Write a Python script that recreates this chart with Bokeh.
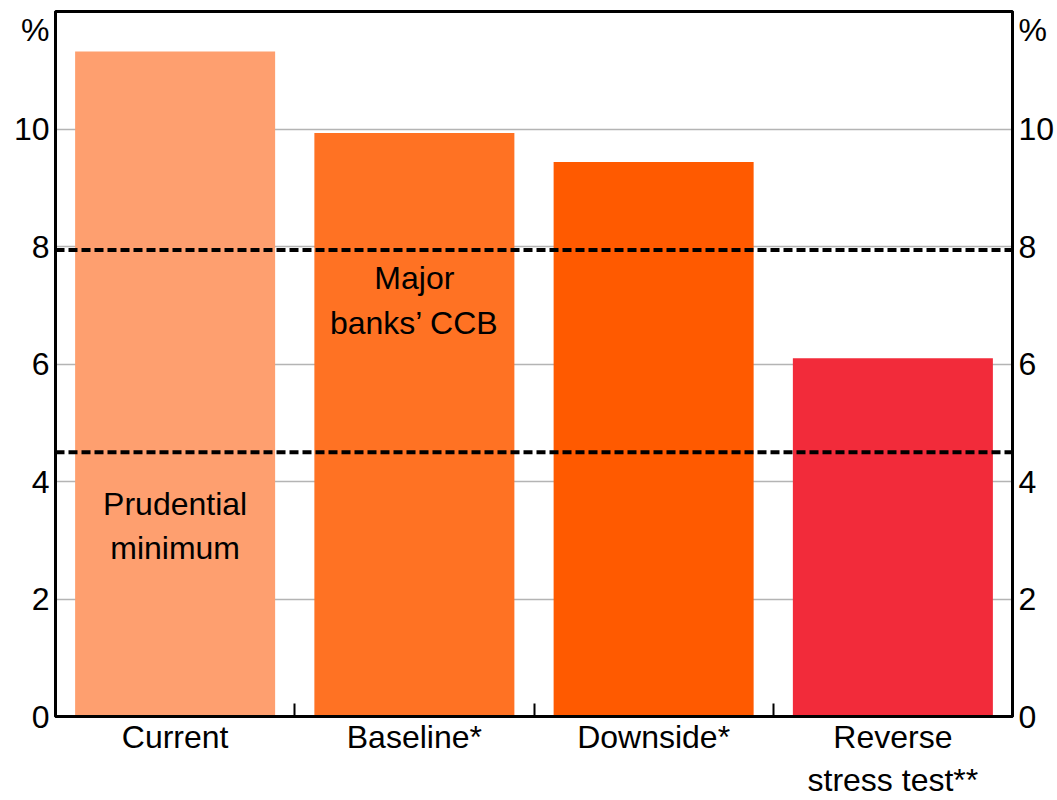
from bokeh.plotting import figure
from bokeh.models import FixedTicker, LinearAxis, Range1d, Span, Label, ColumnDataSource
from bokeh.embed import file_html
from bokeh.resources import INLINE

# ---- data ----
categories = ["Current", "Baseline*", "Downside*", "Reverse\nstress test**"]
values = [11.32, 9.93, 9.44, 6.10]
colors = ["#FE9F6F", "#FF7223", "#FF5A00", "#F22B3A"]
y_ticks = [0, 2, 4, 6, 8, 10]
unit_tick = 11.68
unit_label = "%"
thresholds = [7.94, 4.5]
threshold_text = [["Major", "banks\u2019 CCB"], ["Prudential", "minimum"]]
threshold_cat = [1, 0]
threshold_text_y = [[7.47, 6.70], [3.62, 2.86]]

FONT = "Liberation Sans"
FS = "32px"

n = len(categories)
centers = [i + 0.5 for i in range(n)]
boundaries = [i for i in range(1, n)]

p = figure(width=1057, height=800, output_backend="svg", toolbar_location=None,
           x_range=Range1d(0, n), y_range=Range1d(0, 12),
           min_border_left=55, min_border_right=44, min_border_top=11, min_border_bottom=84)
p.background_fill_color = "white"
p.border_fill_color = "white"
p.outline_line_color = "black"
p.outline_line_width = 3

src = ColumnDataSource(dict(x=centers, top=values, color=colors))
p.vbar(x="x", top="top", width=0.836, fill_color="color", line_color=None, source=src)

# grid
p.xgrid.visible = False
p.ygrid.ticker = FixedTicker(ticks=[t for t in y_ticks if t > 0])
p.ygrid.grid_line_color = "#b4b4b4"
p.ygrid.grid_line_width = 1.5

# x axis
xa = p.xaxis[0]
xa.ticker = FixedTicker(ticks=centers, minor_ticks=boundaries)
xa.major_label_overrides = {c: name for c, name in zip(centers, categories)}
xa.major_tick_in = 0
xa.major_tick_out = 0
xa.minor_tick_in = 13
xa.minor_tick_out = 0
xa.minor_tick_line_color = "black"
xa.minor_tick_line_width = 2
xa.axis_line_width = 3
xa.axis_line_color = "black"
xa.major_label_text_font = FONT
xa.major_label_text_font_size = FS
xa.major_label_text_color = "black"
xa.major_label_standoff = 2

# y axes
ytick_obj = FixedTicker(ticks=y_ticks + [unit_tick])
overrides = {unit_tick: unit_label}
ra = LinearAxis()
p.add_layout(ra, "right")
for ax in (p.yaxis[0], ra):
    ax.ticker = ytick_obj
    ax.major_label_overrides = overrides
    ax.major_tick_in = 0
    ax.major_tick_out = 0
    ax.minor_tick_in = 0
    ax.minor_tick_out = 0
    ax.axis_line_width = 3
    ax.axis_line_color = "black"
    ax.major_label_text_font = FONT
    ax.major_label_text_font_size = FS
    ax.major_label_text_color = "black"
    ax.major_label_standoff = 6

# threshold lines
for t in thresholds:
    p.add_layout(Span(location=t, dimension="width", line_color="black",
                      line_width=4, line_dash="9 4"))

for lines, ci, ys in zip(threshold_text, threshold_cat, threshold_text_y):
    for txt, yv in zip(lines, ys):
        p.add_layout(Label(x=centers[ci], y=yv, text=txt, text_align="center",
                           text_baseline="middle", text_font=FONT,
                           text_font_size=FS, text_color="black"))

open("out.html", "w").write(file_html(p, INLINE))
